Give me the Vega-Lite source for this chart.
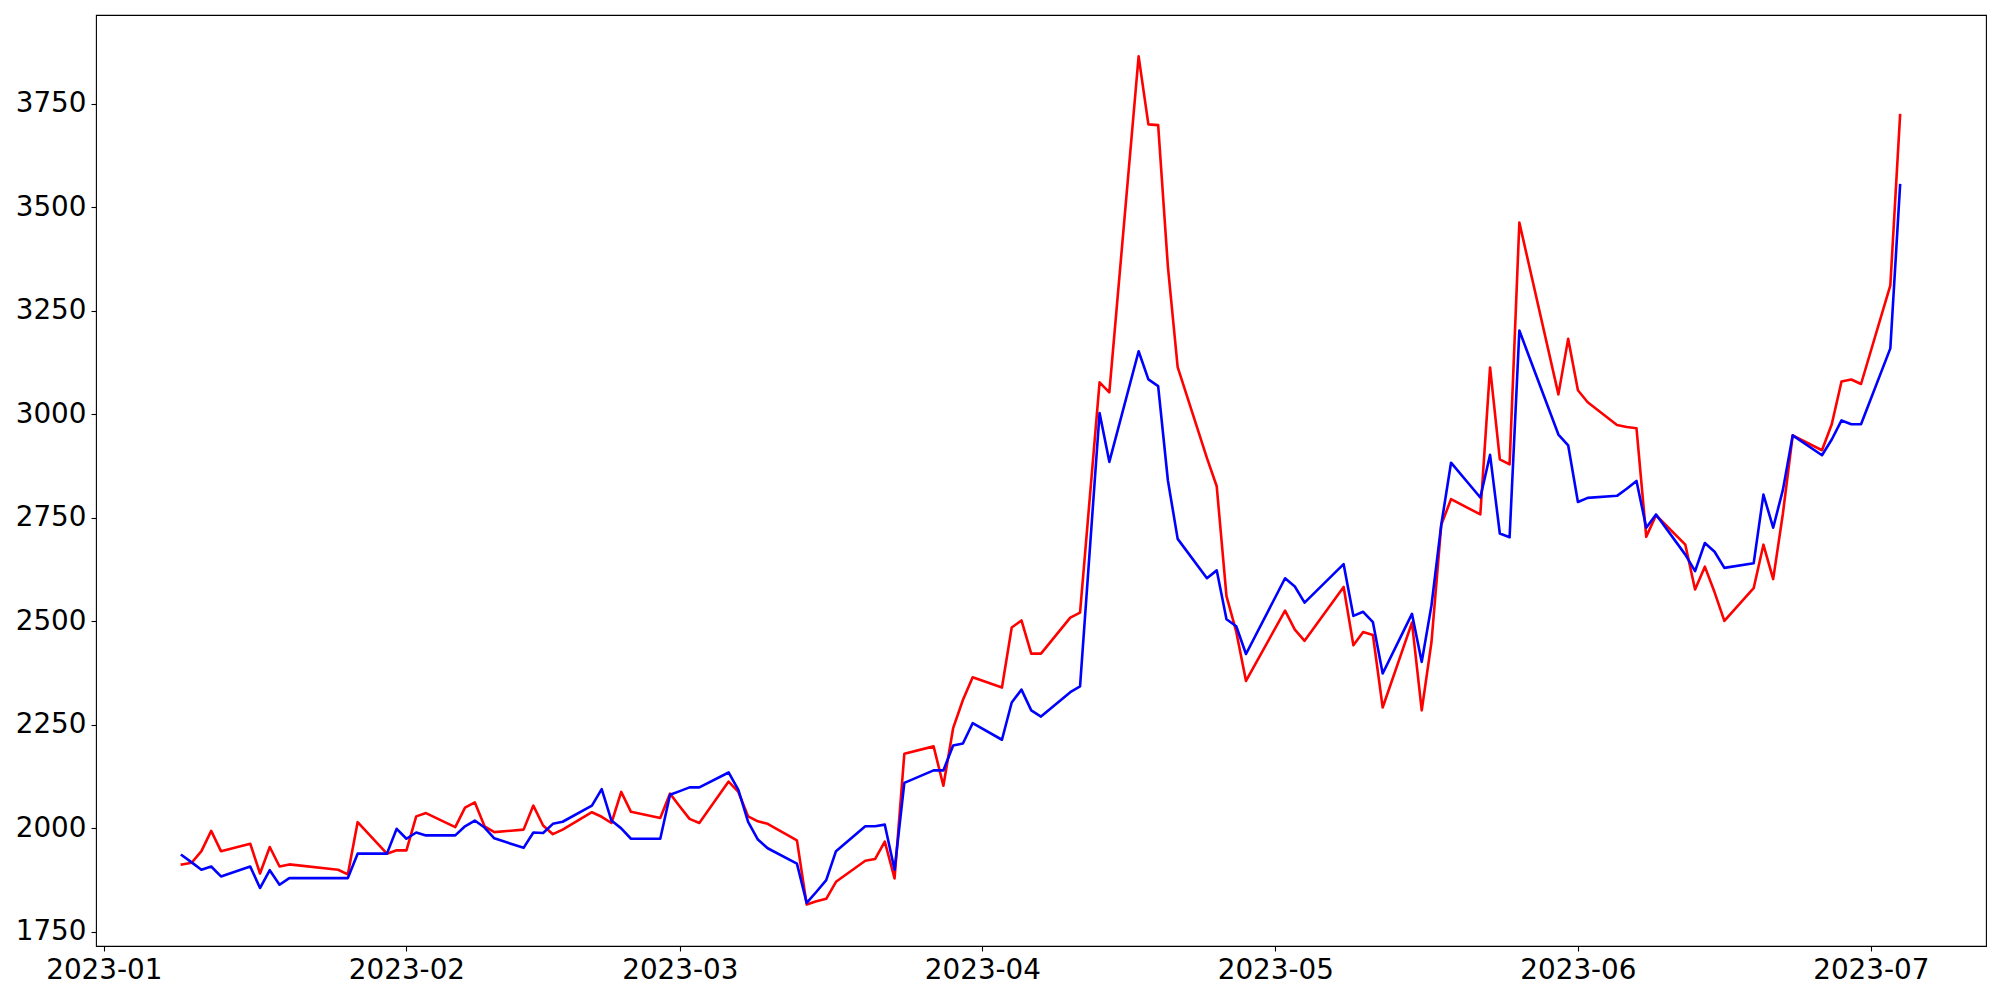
{
  "$schema": "https://vega.github.io/schema/vega-lite/v6.json",
  "width": 1890,
  "height": 931,
  "autosize": {"type": "none"},
  "padding": {"left": 96, "top": 15, "right": 14, "bottom": 54},
  "background": "white",
  "config": {
    "view": {"stroke": "black", "strokeWidth": 1.1},
    "axis": {
      "domain": false,
      "grid": false,
      "title": null,
      "tickColor": "black",
      "tickWidth": 1.1,
      "tickSize": 5,
      "labelFont": "DejaVu Sans",
      "labelFontSize": 27.8,
      "labelColor": "black",
      "labelPadding": 5,
      "labelOverlap": false,
      "labelFlush": false
    }
  },
  "datasets": {
    "red": [
      {"date": "2023-01-09", "value": 1913}, {"date": "2023-01-10", "value": 1917}, {"date": "2023-01-11", "value": 1945},
      {"date": "2023-01-12", "value": 1994}, {"date": "2023-01-13", "value": 1945}, {"date": "2023-01-16", "value": 1963},
      {"date": "2023-01-17", "value": 1891}, {"date": "2023-01-18", "value": 1955}, {"date": "2023-01-19", "value": 1908},
      {"date": "2023-01-20", "value": 1913}, {"date": "2023-01-25", "value": 1900}, {"date": "2023-01-26", "value": 1889},
      {"date": "2023-01-27", "value": 2015}, {"date": "2023-01-30", "value": 1939}, {"date": "2023-01-31", "value": 1947},
      {"date": "2023-02-01", "value": 1947}, {"date": "2023-02-02", "value": 2029}, {"date": "2023-02-03", "value": 2037},
      {"date": "2023-02-06", "value": 2003}, {"date": "2023-02-07", "value": 2050}, {"date": "2023-02-08", "value": 2063},
      {"date": "2023-02-09", "value": 2005}, {"date": "2023-02-10", "value": 1991}, {"date": "2023-02-13", "value": 1997},
      {"date": "2023-02-14", "value": 2055}, {"date": "2023-02-15", "value": 2007}, {"date": "2023-02-16", "value": 1986},
      {"date": "2023-02-17", "value": 1997}, {"date": "2023-02-20", "value": 2039}, {"date": "2023-02-21", "value": 2028},
      {"date": "2023-02-22", "value": 2013}, {"date": "2023-02-23", "value": 2088}, {"date": "2023-02-24", "value": 2040},
      {"date": "2023-02-27", "value": 2025}, {"date": "2023-02-28", "value": 2084}, {"date": "2023-03-01", "value": 2053},
      {"date": "2023-03-02", "value": 2023}, {"date": "2023-03-03", "value": 2013}, {"date": "2023-03-06", "value": 2113},
      {"date": "2023-03-07", "value": 2088}, {"date": "2023-03-08", "value": 2029}, {"date": "2023-03-09", "value": 2017},
      {"date": "2023-03-10", "value": 2011}, {"date": "2023-03-13", "value": 1971}, {"date": "2023-03-14", "value": 1816},
      {"date": "2023-03-15", "value": 1824}, {"date": "2023-03-16", "value": 1830}, {"date": "2023-03-17", "value": 1871},
      {"date": "2023-03-20", "value": 1922}, {"date": "2023-03-21", "value": 1926}, {"date": "2023-03-22", "value": 1968},
      {"date": "2023-03-23", "value": 1879}, {"date": "2023-03-24", "value": 2180}, {"date": "2023-03-27", "value": 2198},
      {"date": "2023-03-28", "value": 2103}, {"date": "2023-03-29", "value": 2242}, {"date": "2023-03-30", "value": 2310},
      {"date": "2023-03-31", "value": 2365}, {"date": "2023-04-03", "value": 2340}, {"date": "2023-04-04", "value": 2485},
      {"date": "2023-04-05", "value": 2502}, {"date": "2023-04-06", "value": 2422}, {"date": "2023-04-07", "value": 2422},
      {"date": "2023-04-10", "value": 2509}, {"date": "2023-04-11", "value": 2521}, {"date": "2023-04-13", "value": 3077},
      {"date": "2023-04-14", "value": 3053}, {"date": "2023-04-17", "value": 3864}, {"date": "2023-04-18", "value": 3700},
      {"date": "2023-04-19", "value": 3698}, {"date": "2023-04-20", "value": 3356}, {"date": "2023-04-21", "value": 3114},
      {"date": "2023-04-24", "value": 2894}, {"date": "2023-04-25", "value": 2826}, {"date": "2023-04-26", "value": 2561},
      {"date": "2023-04-27", "value": 2475}, {"date": "2023-04-28", "value": 2356}, {"date": "2023-05-02", "value": 2526},
      {"date": "2023-05-03", "value": 2480}, {"date": "2023-05-04", "value": 2453}, {"date": "2023-05-08", "value": 2583},
      {"date": "2023-05-09", "value": 2442}, {"date": "2023-05-10", "value": 2474}, {"date": "2023-05-11", "value": 2467},
      {"date": "2023-05-12", "value": 2292}, {"date": "2023-05-15", "value": 2497}, {"date": "2023-05-16", "value": 2285},
      {"date": "2023-05-17", "value": 2450}, {"date": "2023-05-18", "value": 2733}, {"date": "2023-05-19", "value": 2795},
      {"date": "2023-05-22", "value": 2758}, {"date": "2023-05-23", "value": 3113}, {"date": "2023-05-24", "value": 2891},
      {"date": "2023-05-25", "value": 2879}, {"date": "2023-05-26", "value": 3463}, {"date": "2023-05-30", "value": 3048},
      {"date": "2023-05-31", "value": 3182}, {"date": "2023-06-01", "value": 3058}, {"date": "2023-06-02", "value": 3029},
      {"date": "2023-06-05", "value": 2974}, {"date": "2023-06-06", "value": 2969}, {"date": "2023-06-07", "value": 2966},
      {"date": "2023-06-08", "value": 2704}, {"date": "2023-06-09", "value": 2756}, {"date": "2023-06-12", "value": 2685},
      {"date": "2023-06-13", "value": 2577}, {"date": "2023-06-14", "value": 2632}, {"date": "2023-06-15", "value": 2570},
      {"date": "2023-06-16", "value": 2501}, {"date": "2023-06-19", "value": 2580}, {"date": "2023-06-20", "value": 2685},
      {"date": "2023-06-21", "value": 2602}, {"date": "2023-06-22", "value": 2761}, {"date": "2023-06-23", "value": 2949},
      {"date": "2023-06-26", "value": 2913}, {"date": "2023-06-27", "value": 2976}, {"date": "2023-06-28", "value": 3079},
      {"date": "2023-06-29", "value": 3084}, {"date": "2023-06-30", "value": 3073}, {"date": "2023-07-03", "value": 3311},
      {"date": "2023-07-04", "value": 3722}
    ],
    "blue": [
      {"date": "2023-01-09", "value": 1935}, {"date": "2023-01-10", "value": 1918}, {"date": "2023-01-11", "value": 1900},
      {"date": "2023-01-12", "value": 1908}, {"date": "2023-01-13", "value": 1884}, {"date": "2023-01-16", "value": 1908},
      {"date": "2023-01-17", "value": 1856}, {"date": "2023-01-18", "value": 1899}, {"date": "2023-01-19", "value": 1864},
      {"date": "2023-01-20", "value": 1880}, {"date": "2023-01-26", "value": 1880}, {"date": "2023-01-27", "value": 1939},
      {"date": "2023-01-30", "value": 1939}, {"date": "2023-01-31", "value": 1999}, {"date": "2023-02-01", "value": 1975},
      {"date": "2023-02-02", "value": 1990}, {"date": "2023-02-03", "value": 1983}, {"date": "2023-02-06", "value": 1983},
      {"date": "2023-02-07", "value": 2005}, {"date": "2023-02-08", "value": 2019}, {"date": "2023-02-09", "value": 2002},
      {"date": "2023-02-10", "value": 1976}, {"date": "2023-02-13", "value": 1953}, {"date": "2023-02-14", "value": 1990},
      {"date": "2023-02-15", "value": 1989}, {"date": "2023-02-16", "value": 2011}, {"date": "2023-02-17", "value": 2016},
      {"date": "2023-02-20", "value": 2055}, {"date": "2023-02-21", "value": 2095}, {"date": "2023-02-22", "value": 2019},
      {"date": "2023-02-23", "value": 2000}, {"date": "2023-02-24", "value": 1975}, {"date": "2023-02-27", "value": 1975},
      {"date": "2023-02-28", "value": 2081}, {"date": "2023-03-01", "value": 2090}, {"date": "2023-03-02", "value": 2099},
      {"date": "2023-03-03", "value": 2099}, {"date": "2023-03-06", "value": 2135}, {"date": "2023-03-07", "value": 2093},
      {"date": "2023-03-08", "value": 2016}, {"date": "2023-03-09", "value": 1973}, {"date": "2023-03-10", "value": 1952},
      {"date": "2023-03-13", "value": 1915}, {"date": "2023-03-14", "value": 1820}, {"date": "2023-03-15", "value": 1847},
      {"date": "2023-03-16", "value": 1875}, {"date": "2023-03-17", "value": 1945}, {"date": "2023-03-20", "value": 2005},
      {"date": "2023-03-21", "value": 2005}, {"date": "2023-03-22", "value": 2009}, {"date": "2023-03-23", "value": 1900},
      {"date": "2023-03-24", "value": 2110}, {"date": "2023-03-27", "value": 2140}, {"date": "2023-03-28", "value": 2140},
      {"date": "2023-03-29", "value": 2200}, {"date": "2023-03-30", "value": 2205}, {"date": "2023-03-31", "value": 2254},
      {"date": "2023-04-03", "value": 2214}, {"date": "2023-04-04", "value": 2304}, {"date": "2023-04-05", "value": 2335},
      {"date": "2023-04-06", "value": 2285}, {"date": "2023-04-07", "value": 2270}, {"date": "2023-04-10", "value": 2329},
      {"date": "2023-04-11", "value": 2343}, {"date": "2023-04-13", "value": 3003}, {"date": "2023-04-14", "value": 2885},
      {"date": "2023-04-17", "value": 3152}, {"date": "2023-04-18", "value": 3084}, {"date": "2023-04-19", "value": 3068},
      {"date": "2023-04-20", "value": 2840}, {"date": "2023-04-21", "value": 2699}, {"date": "2023-04-24", "value": 2604},
      {"date": "2023-04-25", "value": 2623}, {"date": "2023-04-26", "value": 2505}, {"date": "2023-04-27", "value": 2488},
      {"date": "2023-04-28", "value": 2421}, {"date": "2023-05-02", "value": 2604}, {"date": "2023-05-03", "value": 2584},
      {"date": "2023-05-04", "value": 2545}, {"date": "2023-05-08", "value": 2638}, {"date": "2023-05-09", "value": 2513},
      {"date": "2023-05-10", "value": 2523}, {"date": "2023-05-11", "value": 2498}, {"date": "2023-05-12", "value": 2374},
      {"date": "2023-05-15", "value": 2518}, {"date": "2023-05-16", "value": 2402}, {"date": "2023-05-17", "value": 2539},
      {"date": "2023-05-18", "value": 2733}, {"date": "2023-05-19", "value": 2883}, {"date": "2023-05-22", "value": 2799},
      {"date": "2023-05-23", "value": 2902}, {"date": "2023-05-24", "value": 2712}, {"date": "2023-05-25", "value": 2703},
      {"date": "2023-05-26", "value": 3202}, {"date": "2023-05-30", "value": 2951}, {"date": "2023-05-31", "value": 2925},
      {"date": "2023-06-01", "value": 2788}, {"date": "2023-06-02", "value": 2798}, {"date": "2023-06-05", "value": 2803},
      {"date": "2023-06-06", "value": 2820}, {"date": "2023-06-07", "value": 2839}, {"date": "2023-06-08", "value": 2726},
      {"date": "2023-06-09", "value": 2758}, {"date": "2023-06-12", "value": 2661}, {"date": "2023-06-13", "value": 2621},
      {"date": "2023-06-14", "value": 2689}, {"date": "2023-06-15", "value": 2668}, {"date": "2023-06-16", "value": 2629},
      {"date": "2023-06-19", "value": 2640}, {"date": "2023-06-20", "value": 2806}, {"date": "2023-06-21", "value": 2726},
      {"date": "2023-06-22", "value": 2818}, {"date": "2023-06-23", "value": 2949}, {"date": "2023-06-26", "value": 2901},
      {"date": "2023-06-27", "value": 2939}, {"date": "2023-06-28", "value": 2985}, {"date": "2023-06-29", "value": 2976},
      {"date": "2023-06-30", "value": 2976}, {"date": "2023-07-03", "value": 3159}, {"date": "2023-07-04", "value": 3553}
    ]
  },
  "encoding": {
    "x": {
      "field": "date",
      "type": "temporal",
      "scale": {
        "type": "utc",
        "domain": [
          {"year": 2022, "month": 12, "date": 31, "hours": 4, "minutes": 48, "utc": true},
          {"year": 2023, "month": 7, "date": 12, "hours": 19, "minutes": 12, "utc": true}
        ],
        "nice": false
      },
      "axis": {
        "labelExpr": "utcFormat(datum.value, '%Y-%m')",
        "values": [
          {"year": 2023, "month": 1, "date": 1, "utc": true},
          {"year": 2023, "month": 2, "date": 1, "utc": true},
          {"year": 2023, "month": 3, "date": 1, "utc": true},
          {"year": 2023, "month": 4, "date": 1, "utc": true},
          {"year": 2023, "month": 5, "date": 1, "utc": true},
          {"year": 2023, "month": 6, "date": 1, "utc": true},
          {"year": 2023, "month": 7, "date": 1, "utc": true}
        ]
      }
    },
    "y": {
      "field": "value",
      "type": "quantitative",
      "scale": {"domain": [1716, 3964], "nice": false, "zero": false},
      "axis": {"format": "d", "values": [1750, 2000, 2250, 2500, 2750, 3000, 3250, 3500, 3750]}
    }
  },
  "layer": [
    {
      "data": {"name": "red"},
      "mark": {"type": "line", "color": "#ff0000", "strokeWidth": 2.6, "strokeJoin": "round", "strokeCap": "square", "clip": true}
    },
    {
      "data": {"name": "blue"},
      "mark": {"type": "line", "color": "#0000ff", "strokeWidth": 2.6, "strokeJoin": "round", "strokeCap": "square", "clip": true}
    }
  ]
}
